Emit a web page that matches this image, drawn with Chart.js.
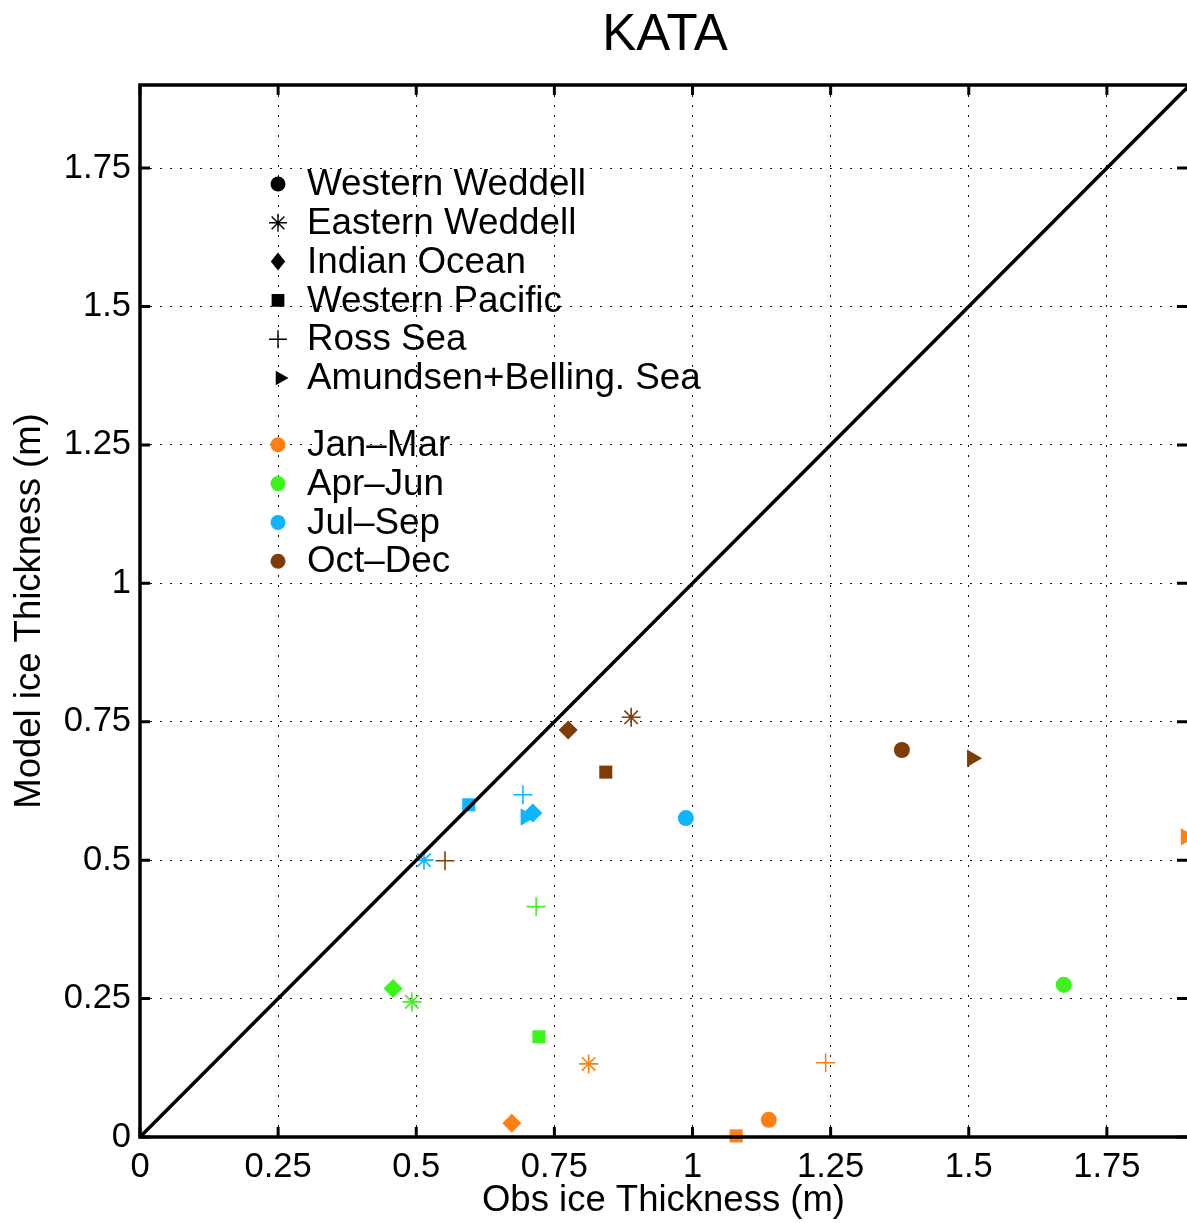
<!DOCTYPE html>
<html>
<head>
<meta charset="utf-8">
<script src="https://cdn.jsdelivr.net/npm/chart.js@4.4.1/dist/chart.umd.min.js"></script>
<style>
  body { margin: 0; background: #fff; }
  #wrap { width: 1187px; height: 1223px; }
</style>
</head>
<body>
<div id="wrap"><canvas id="chart" width="1187" height="1223"></canvas></div>
<script>
// regions (marker shape) and seasons (colour)
const regions = ["Western Weddell", "Eastern Weddell", "Indian Ocean", "Western Pacific", "Ross Sea", "Amundsen+Belling. Sea"];
const seasons = ["Jan\u2013Mar", "Apr\u2013Jun", "Jul\u2013Sep", "Oct\u2013Dec"];

// obs / model ice thickness (m), one value per region, null = no point
const obsJanMar = [1.138, 0.812, 0.673, 1.079, 1.241, 1.893];
const modJanMar = [0.031, 0.132, 0.025, 0.002, 0.134, 0.542];
const obsAprJun = [1.672, 0.492, 0.458, 0.722, 0.717, null];
const modAprJun = [0.275, 0.244, 0.268, 0.181, 0.416, null];
const obsJulSep = [0.988, 0.514, 0.711, 0.595, 0.693, 0.698];
const modJulSep = [0.576, 0.500, 0.585, 0.600, 0.618, 0.578];
const obsOctDec = [1.379, 0.889, 0.775, 0.843, 0.552, 1.506];
const modOctDec = [0.699, 0.758, 0.735, 0.659, 0.499, 0.684];

// 1:1 line
const lineX = [0, 1.9];
const lineY = [0, 1.9];

const ticks = [0, 0.25, 0.5, 0.75, 1, 1.25, 1.5, 1.75];

const markerStyles = ["circle", "star", "rectRot", "rect", "cross", "triangle"];
const markerRadius = { circle: 8, star: 9.5, rectRot: 9.5, rect: 9.2, cross: 9.5, triangle: 10 };
const seasonColors = ["#ff8010", "#3cf51a", "#0db4ff", "#7f3d05"];
const FONT = "'Liberation Sans', Arial, Helvetica, sans-serif";

function seasonSet(label, obs, mod, color) {
  const pts = [], styles = [];
  obs.forEach((x, i) => {
    if (x === null) return;
    pts.push({ x: x, y: mod[i] });
    styles.push(markerStyles[i]);
  });
  return {
    type: "scatter",
    label: label,
    data: pts,
    showLine: false,
    clip: false,
    pointStyle: styles,
    pointRadius: styles.map(s => markerRadius[s]),
    pointRotation: styles.map(s => s === "triangle" ? 90 : 0),
    pointBackgroundColor: color,
    pointBorderColor: color,
    pointBorderWidth: styles.map(s => (s === "cross" || s === "star") ? 1.6 : 0)
  };
}

function drawMarker(ctx, style, x, y, r, color) {
  ctx.save();
  ctx.fillStyle = color;
  ctx.strokeStyle = color;
  ctx.lineWidth = 1.4;
  ctx.beginPath();
  if (style === "circle") {
    ctx.arc(x, y, r, 0, Math.PI * 2);
    ctx.fill();
  } else if (style === "rect") {
    const s = r * Math.SQRT1_2;
    ctx.fillRect(x - s, y - s, 2 * s, 2 * s);
  } else if (style === "rectRot") {
    ctx.moveTo(x, y - r);
    ctx.lineTo(x + r * 0.8, y);
    ctx.lineTo(x, y + r);
    ctx.lineTo(x - r * 0.8, y);
    ctx.closePath();
    ctx.fill();
  } else if (style === "triangle") {
    ctx.moveTo(x + r, y);
    ctx.lineTo(x - r / 2, y - r * 0.866);
    ctx.lineTo(x - r / 2, y + r * 0.866);
    ctx.closePath();
    ctx.fill();
  } else if (style === "cross" || style === "star") {
    ctx.moveTo(x - r, y); ctx.lineTo(x + r, y);
    ctx.moveTo(x, y - r); ctx.lineTo(x, y + r);
    if (style === "star") {
      const d = r * Math.SQRT1_2;
      ctx.moveTo(x - d, y - d); ctx.lineTo(x + d, y + d);
      ctx.moveTo(x - d, y + d); ctx.lineTo(x + d, y - d);
    }
    ctx.stroke();
  }
  ctx.restore();
}

// title, frame, inward ticks and the legend
const framePlugin = {
  id: "frame",
  afterDatasetsDraw(chart) {
    const ctx = chart.ctx;
    const a = chart.chartArea;
    const xs = chart.scales.x, ys = chart.scales.y;
    ctx.save();
    ctx.strokeStyle = "#000";
    ctx.lineWidth = 3;
    ticks.forEach(v => {
      const px = xs.getPixelForValue(v);
      const py = ys.getPixelForValue(v);
      ctx.beginPath();
      ctx.moveTo(px, a.bottom); ctx.lineTo(px, a.bottom - 10);
      ctx.moveTo(px, a.top); ctx.lineTo(px, a.top + 10);
      ctx.moveTo(a.left, py); ctx.lineTo(a.left + 10, py);
      ctx.moveTo(a.right, py); ctx.lineTo(a.right - 10, py);
      ctx.stroke();
    });
    ctx.lineWidth = 3.5;
    ctx.strokeRect(a.left, a.top, a.right - a.left + 3, a.bottom - a.top);

    ctx.fillStyle = "#000";
    ctx.font = "51px " + FONT;
    ctx.textAlign = "center";
    ctx.textBaseline = "middle";
    ctx.fillText("KATA", (a.left + a.right + 3) / 2, 36);
    ctx.restore();

    // legend
    const mx = a.left + 138, tx = a.left + 167;
    let y = a.top + 99;
    const legendR = { circle: 7.5, star: 9, rectRot: 9, rect: 9, cross: 9, triangle: 8.5 };
    ctx.save();
    ctx.font = "36.8px " + FONT;
    ctx.fillStyle = "#000";
    ctx.textBaseline = "middle";
    regions.forEach((name, i) => {
      const st = markerStyles[i];
      drawMarker(ctx, st, st === "triangle" ? mx + 2 : mx, y, legendR[st], "#000");
      ctx.fillText(name, tx, y + 1);
      y += 38.8;
    });
    y += 28;
    seasons.forEach((name, i) => {
      drawMarker(ctx, "circle", mx, y, 7.5, seasonColors[i]);
      ctx.fillText(name, tx, y + 1);
      y += 38.8;
    });
    ctx.restore();
  }
};

const datasets = [
  {
    type: "line",
    label: "1:1",
    data: lineX.map((x, i) => ({ x: x, y: lineY[i] })),
    borderColor: "#000",
    borderWidth: 3.5,
    pointRadius: 0,
    fill: false
  },
  seasonSet(seasons[0], obsJanMar, modJanMar, seasonColors[0]),
  seasonSet(seasons[1], obsAprJun, modAprJun, seasonColors[1]),
  seasonSet(seasons[2], obsJulSep, modJulSep, seasonColors[2]),
  seasonSet(seasons[3], obsOctDec, modOctDec, seasonColors[3])
];

const gridOpts = { color: "#111", lineWidth: 1, drawTicks: false };
const fmt = v => String(+Number(v).toFixed(2));

new Chart(document.getElementById("chart"), {
  type: "scatter",
  data: { datasets: datasets },
  options: {
    responsive: false,
    animation: false,
    events: [],
    layout: { autoPadding: false, padding: { top: 85, right: 0, left: 0, bottom: 0 } },
    plugins: {
      legend: { display: false },
      tooltip: { enabled: false },
      title: { display: false }
    },
    scales: {
      x: {
        type: "linear",
        min: 0,
        max: 1.895,
        afterFit(s) { s.height = 86; s.paddingRight = 0; s.paddingLeft = 0; },
        grid: gridOpts,
        border: { display: false, dash: [2, 8] },
        ticks: {
          stepSize: 0.25,
          includeBounds: false,
          autoSkip: false,
          maxRotation: 0,
          padding: 10,
          color: "#000",
          font: { family: FONT, size: 34.5 },
          callback: fmt
        },
        title: {
          display: true,
          text: "Obs ice Thickness (m)",
          color: "#000",
          font: { family: FONT, size: 36.5, lineHeight: 1.2 },
          padding: { top: 0, bottom: 0 }
        }
      },
      y: {
        type: "linear",
        min: 0,
        max: 1.9,
        afterFit(s) { s.width = 140; s.paddingTop = 0; s.paddingBottom = 0; },
        grid: gridOpts,
        border: { display: false, dash: [2, 8] },
        ticks: {
          stepSize: 0.25,
          includeBounds: false,
          autoSkip: false,
          padding: 9,
          color: "#000",
          font: { family: FONT, size: 34.5 },
          callback: fmt
        },
        title: {
          display: true,
          text: "Model ice Thickness (m)",
          color: "#000",
          font: { family: FONT, size: 36.5, lineHeight: 1.2 },
          padding: { top: 8, bottom: 0 }
        }
      }
    }
  },
  plugins: [framePlugin]
});
</script>
</body>
</html>
